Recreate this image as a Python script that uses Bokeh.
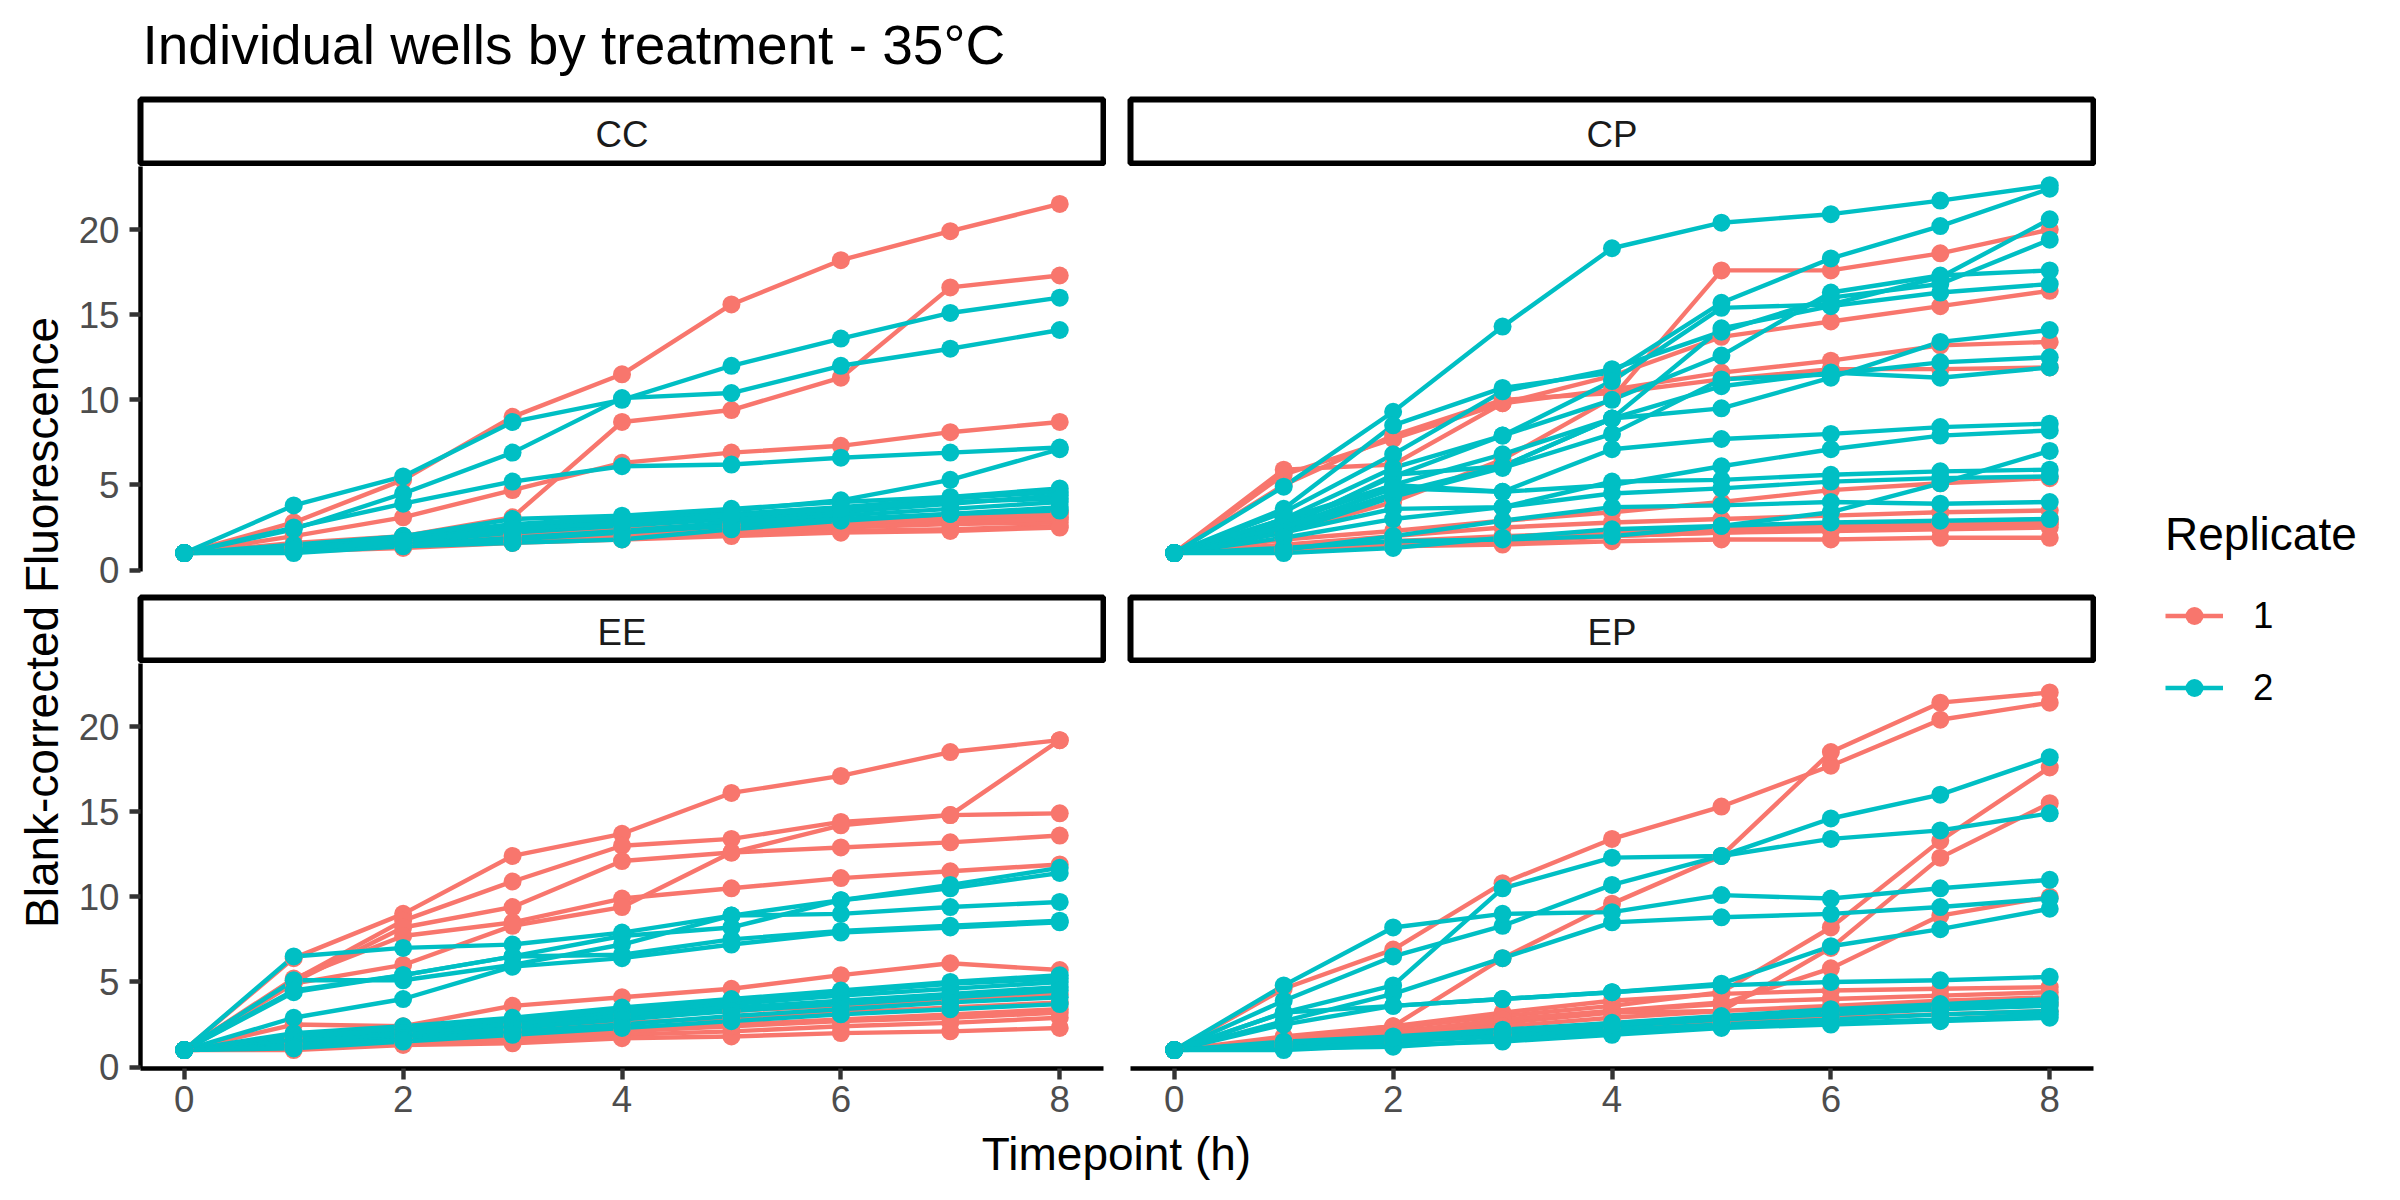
import math
from bokeh.plotting import figure
from bokeh.layouts import row, column
from bokeh.models import Range1d, FixedTicker, Legend, LegendItem
from bokeh.embed import file_html
from bokeh.resources import INLINE
from bokeh.core.properties import value

# ---------------- data ----------------
TIMEPOINTS = [0, 1, 2, 3, 4, 5, 6, 7, 8]
FACETS = ["CC", "CP", "EE", "EP"]
REPLICATES = ["1", "2"]
X_TICKS = [0, 2, 4, 6, 8]
Y_TICKS = [0, 5, 10, 15, 20]

CC_REP1 = [
    [1, 2.8, 5.3, 9.0, 11.5, 15.6, 18.2, 19.9, 21.5],
    [1, 1.6, 2.0, 3.1, 8.7, 9.4, 11.3, 16.6, 17.3],
    [1, 2.0, 3.1, 4.7, 6.3, 6.9, 7.3, 8.1, 8.7],
    [1, 1.2, 1.4, 1.7, 1.9, 2.1, 2.3, 2.4, 2.6],
    [1, 1.3, 1.5, 1.8, 2.0, 2.3, 2.5, 2.7, 2.8],
    [1, 1.3, 1.7, 2.0, 2.2, 2.5, 2.7, 2.9, 3.1],
    [1, 1.4, 1.8, 2.1, 2.4, 2.7, 2.9, 3.1, 3.3],
    [1, 1.2, 1.5, 1.9, 2.1, 2.4, 2.6, 2.8, 3.0],
    [1, 1.1, 1.3, 1.6, 1.8, 2.0, 2.2, 2.3, 2.5],
    [1, 1.3, 1.6, 2.0, 2.3, 2.6, 2.8, 3.0, 3.4],
]
CC_REP2 = [
    [1, 3.8, 5.5, 8.7, 10.0, 12.0, 13.6, 15.1, 16.0],
    [1, 2.4, 4.5, 6.9, 10.1, 10.4, 12.0, 13.0, 14.1],
    [1, 2.5, 3.9, 5.2, 6.1, 6.2, 6.6, 6.9, 7.2],
    [1, 1.5, 2.0, 2.7, 3.1, 3.5, 4.1, 5.3, 7.1],
    [1, 1.2, 2.0, 3.0, 3.2, 3.6, 4.0, 4.3, 4.8],
    [1, 1.3, 1.8, 2.5, 2.9, 3.3, 3.7, 4.2, 4.6],
    [1, 1.1, 1.6, 2.2, 2.6, 3.0, 3.4, 3.9, 4.4],
    [1, 1.2, 1.5, 1.9, 2.3, 2.8, 3.2, 3.6, 4.0],
    [1, 1.0, 1.4, 1.6, 1.8, 2.4, 2.9, 3.3, 3.7],
    [1, 1.1, 1.5, 1.8, 2.2, 2.6, 3.0, 3.3, 3.5],
    [1, 1.2, 1.7, 2.4, 2.8, 3.2, 3.6, 4.0, 4.2],
]
CP_REP1 = [
    [1, 2.2, 4.0, 6.5, 10.1, 17.6, 17.6, 18.6, 20.0],
    [1, 5.9, 6.2, 9.8, 11.4, 13.7, 14.6, 15.5, 16.4],
    [1, 5.6, 7.7, 9.8, 10.6, 11.6, 12.3, 13.2, 13.4],
    [1, 5.0, 7.9, 10.0, 10.4, 11.2, 11.8, 11.8, 11.9],
    [1, 1.8, 2.3, 2.9, 3.4, 4.0, 4.7, 5.1, 5.4],
    [1, 1.5, 2.0, 2.5, 2.8, 3.0, 3.2, 3.4, 3.5],
    [1, 1.3, 1.7, 2.0, 2.2, 2.4, 2.6, 2.8, 3.0],
    [1, 1.2, 1.5, 1.8, 2.0, 2.2, 2.3, 2.4, 2.5],
    [1, 1.1, 1.4, 1.5, 1.7, 1.8, 1.8, 1.9, 1.9],
    [1, 1.2, 1.6, 1.9, 2.1, 2.4, 2.5, 2.7, 2.8],
    [1, 1.3, 1.4, 1.6, 2.0, 2.2, 2.4, 2.5, 2.7],
]
CP_REP2 = [
    [1, 4.9, 9.3, 14.3, 18.9, 20.4, 20.9, 21.7, 22.6],
    [1, 3.6, 8.5, 10.7, 11.6, 15.7, 18.3, 20.2, 22.4],
    [1, 3.4, 6.8, 10.5, 11.8, 14.0, 16.0, 16.8, 19.4],
    [1, 3.0, 6.0, 7.9, 11.1, 15.4, 15.6, 17.2, 20.6],
    [1, 2.6, 5.5, 7.9, 10.0, 12.6, 16.3, 17.3, 17.6],
    [1, 2.8, 5.0, 6.8, 8.9, 14.2, 15.5, 16.3, 16.8],
    [1, 2.4, 4.5, 6.1, 8.9, 9.5, 11.3, 13.4, 14.1],
    [1, 2.5, 5.6, 6.1, 8.9, 10.8, 11.6, 11.3, 11.9],
    [1, 2.2, 4.3, 6.0, 8.0, 11.2, 11.5, 12.2, 12.5],
    [1, 3.0, 5.0, 4.6, 7.1, 7.7, 8.0, 8.4, 8.6],
    [1, 2.5, 4.8, 4.6, 5.0, 6.1, 7.1, 7.9, 8.2],
    [1, 2.2, 3.6, 3.7, 5.2, 5.3, 5.6, 5.8, 5.9],
    [1, 1.9, 3.0, 3.7, 4.5, 4.8, 5.2, 5.4, 5.5],
    [1, 1.3, 1.7, 1.8, 2.0, 2.6, 3.4, 5.1, 7.0],
    [1, 1.2, 2.0, 2.9, 3.7, 3.8, 4.0, 3.9, 4.0],
    [1, 1.0, 1.3, 1.9, 2.4, 2.6, 2.8, 2.9, 3.0],
]
EE_REP1 = [
    [1, 6.4, 9.0, 12.4, 13.7, 16.1, 17.1, 18.5, 19.2],
    [1, 5.1, 8.6, 10.9, 13.0, 13.4, 14.4, 14.8, 19.2],
    [1, 5.0, 8.2, 9.4, 12.1, 12.6, 12.9, 13.2, 13.6],
    [1, 5.2, 7.7, 8.5, 9.9, 10.5, 11.1, 11.5, 11.9],
    [1, 4.9, 6.0, 8.3, 9.4, 12.6, 14.2, 14.8, 14.9],
    [1, 2.5, 2.4, 3.6, 4.1, 4.6, 5.4, 6.1, 5.7],
    [1, 1.7, 2.0, 2.5, 3.0, 3.3, 3.6, 3.9, 4.3],
    [1, 1.4, 1.7, 2.2, 2.6, 2.9, 3.2, 3.5, 3.8],
    [1, 1.3, 1.5, 1.9, 2.2, 2.5, 2.8, 3.1, 3.4],
    [1, 1.2, 1.4, 1.6, 1.9, 2.1, 2.4, 2.6, 2.9],
    [1, 1.0, 1.3, 1.4, 1.7, 1.8, 2.0, 2.1, 2.3],
    [1, 1.1, 1.5, 1.8, 2.1, 2.4, 2.7, 2.9, 3.2],
]
EE_REP2 = [
    [1, 6.5, 7.0, 7.2, 7.9, 8.9, 9.8, 10.7, 11.7],
    [1, 4.4, 5.4, 6.5, 7.7, 8.2, 9.8, 10.5, 11.4],
    [1, 5.1, 5.1, 6.0, 7.2, 8.9, 9.0, 9.4, 9.7],
    [1, 4.5, 5.4, 6.5, 6.6, 7.5, 8.0, 8.3, 8.6],
    [1, 2.9, 4.0, 5.9, 6.4, 7.2, 7.9, 8.2, 8.5],
    [1, 2.0, 2.4, 2.9, 3.5, 4.0, 4.5, 5.0, 5.4],
    [1, 1.8, 2.2, 2.8, 3.4, 3.9, 4.4, 4.9, 5.2],
    [1, 1.6, 2.0, 2.6, 3.2, 3.7, 4.2, 4.6, 5.0],
    [1, 1.5, 1.9, 2.5, 3.0, 3.5, 3.9, 4.3, 4.7],
    [1, 1.3, 1.7, 2.3, 2.8, 3.3, 3.7, 4.1, 4.5],
    [1, 1.2, 1.6, 2.1, 2.5, 3.0, 3.4, 3.8, 4.1],
    [1, 1.1, 1.5, 1.9, 2.3, 2.7, 3.1, 3.4, 3.7],
]
EP_REP1 = [
    [1, 4.6, 6.9, 10.8, 13.4, 15.3, 17.7, 20.4, 21.4],
    [1, 1.8, 2.4, 6.4, 9.6, 12.4, 18.5, 21.4, 22.0],
    [1, 1.7, 2.3, 3.0, 3.6, 4.4, 8.2, 13.3, 17.6],
    [1, 1.5, 2.0, 2.6, 3.2, 3.3, 7.0, 12.3, 15.5],
    [1, 1.6, 2.1, 2.7, 3.3, 3.7, 5.8, 8.9, 10.0],
    [1, 1.7, 2.4, 3.2, 3.9, 4.3, 4.5, 4.6, 4.7],
    [1, 1.6, 2.0, 2.8, 3.3, 3.8, 4.0, 4.2, 4.4],
    [1, 1.4, 1.8, 2.4, 2.9, 3.3, 3.6, 3.9, 4.1],
    [1, 1.3, 1.6, 2.1, 2.6, 2.9, 3.2, 3.5, 3.7],
    [1, 1.2, 1.5, 1.9, 2.3, 2.6, 2.9, 3.1, 3.3],
]
EP_REP2 = [
    [1, 3.9, 6.5, 8.3, 10.7, 12.4, 14.6, 16.0, 18.2],
    [1, 3.2, 4.8, 10.5, 12.3, 12.4, 13.4, 13.9, 14.9],
    [1, 4.8, 8.2, 9.0, 9.1, 10.1, 9.9, 10.5, 11.0],
    [1, 2.7, 4.3, 6.4, 8.5, 8.8, 9.0, 9.4, 9.9],
    [1, 2.5, 3.6, 4.0, 4.4, 4.9, 7.1, 8.1, 9.3],
    [1, 3.2, 3.6, 4.0, 4.4, 4.8, 5.0, 5.1, 5.3],
    [1, 1.5, 1.8, 2.2, 2.6, 3.0, 3.4, 3.7, 4.0],
    [1, 1.3, 1.6, 2.0, 2.4, 2.8, 3.1, 3.4, 3.6],
    [1, 1.2, 1.5, 1.8, 2.2, 2.5, 2.8, 3.1, 3.3],
    [1, 1.0, 1.3, 1.5, 1.9, 2.3, 2.5, 2.7, 2.9],
    [1, 1.1, 1.2, 1.6, 2.0, 2.4, 2.6, 2.8, 3.1],
    [1, 1.4, 1.7, 2.1, 2.5, 2.9, 3.3, 3.6, 3.8],
]

TITLE = "Individual wells by treatment - 35°C"
X_TITLE = "Timepoint (h)"
Y_TITLE = "Blank-corrected Fluorescence"
LEGEND_TITLE = "Replicate"

DATA = {
    "CC": (CC_REP1, CC_REP2),
    "CP": (CP_REP1, CP_REP2),
    "EE": (EE_REP1, EE_REP2),
    "EP": (EP_REP1, EP_REP2),
}

# ---------------- style / layout ----------------
FONT = "Liberation Sans"
COLORS = {"1": "#F8766D", "2": "#00BFC4"}
LW = 4.4
PT = 18
X_LO, X_HI = -0.4, 8.4
Y_LO, Y_HI = -0.08, 23.7

TOTAL_W, TOTAL_H = 2400, 1200
FRAME_W = 963
FRAME_H = 405
LEFT_BL, LEFT_BR = 72, 3
RIGHT_BL, RIGHT_BR = 24, 3
LEFT_W = LEFT_BL + FRAME_W + LEFT_BR
RIGHT_W = RIGHT_BL + FRAME_W + RIGHT_BR
MID_W = LEFT_W + RIGHT_W
YLAB_W = 68
LEG_W = TOTAL_W - YLAB_W - MID_W
HEADER_H = 96
STRIP1_H = 70
TOP_B = 22          # room under the top panels for the "0" tick label
STRIP2_H = 92 - TOP_B
BOTTOM_B = 59
FOOTER_H = (TOTAL_H - HEADER_H - STRIP1_H - (FRAME_H + TOP_B) - STRIP2_H
            - (FRAME_H + BOTTOM_B))


def base_fig(w, h, xr, yr, bl=0, br=0, bt=0, bb=0, xloc=None, yloc=None):
    p = figure(width=w, height=h, x_range=xr, y_range=yr,
               output_backend="svg", toolbar_location=None, title=None,
               x_axis_location=xloc, y_axis_location=yloc,
               min_border_left=bl, min_border_right=br,
               min_border_top=bt, min_border_bottom=bb)
    p.background_fill_color = "white"
    p.border_fill_color = "white"
    p.outline_line_color = None
    p.grid.visible = False
    return p


def style_axis(ax, ticks, standoff):
    ax.ticker = FixedTicker(ticks=ticks)
    ax.axis_label = None
    ax.axis_line_color = "black"
    ax.axis_line_width = LW
    ax.major_tick_line_color = "#333333"
    ax.major_tick_line_width = LW
    ax.major_tick_out = 11
    ax.major_tick_in = 0
    ax.minor_tick_line_color = None
    ax.major_label_text_font = FONT
    ax.major_label_text_font_size = "36.7px"
    ax.major_label_text_color = "#4D4D4D"
    ax.major_label_standoff = standoff


def make_panel(facet, left_col, bottom_row):
    rep1, rep2 = DATA[facet]
    bl, br = (LEFT_BL, LEFT_BR) if left_col else (RIGHT_BL, RIGHT_BR)
    w = LEFT_W if left_col else RIGHT_W
    bb = BOTTOM_B if bottom_row else TOP_B
    p = base_fig(w, FRAME_H + bb, Range1d(X_LO, X_HI), Range1d(Y_LO, Y_HI),
                 bl=bl, br=br, bt=0, bb=bb,
                 xloc="below" if bottom_row else None,
                 yloc="left" if left_col else None)
    for rep, series in zip(REPLICATES, (rep1, rep2)):
        p.multi_line(xs=[TIMEPOINTS] * len(series), ys=series,
                     line_color=COLORS[rep], line_width=LW,
                     line_join="round", line_cap="round")
    for rep, series in zip(REPLICATES, (rep1, rep2)):
        xs = [t for s in series for t in TIMEPOINTS]
        ys = [v for s in series for v in s]
        p.scatter(x=xs, y=ys, size=PT, fill_color=COLORS[rep], line_color=None)
    if left_col:
        style_axis(p.yaxis[0], Y_TICKS, 10)
    if bottom_row:
        style_axis(p.xaxis[0], X_TICKS, 6)
    return p


def make_strip(label, left_col, h, bt, bb):
    bl, br = (LEFT_BL, LEFT_BR) if left_col else (RIGHT_BL, RIGHT_BR)
    w = LEFT_W if left_col else RIGHT_W
    fh = h - bt - bb
    p = base_fig(w, h, Range1d(0, FRAME_W), Range1d(0, fh), bl=bl, br=br, bt=bt, bb=bb)
    p.outline_line_color = "black"
    p.outline_line_width = 6
    p.text(x=[FRAME_W / 2], y=[fh - 35.3], text=[label], text_align="center",
           text_baseline="middle", text_font=value(FONT),
           text_font_size="36.7px", text_color="#1A1A1A")
    return p


# header with the title
header = base_fig(MID_W, HEADER_H, Range1d(0, MID_W), Range1d(0, HEADER_H))
header.text(x=[142 - YLAB_W], y=[HEADER_H - 44], text=[TITLE], text_align="left",
            text_baseline="middle", text_font=value(FONT),
            text_font_size="55px", text_color="black")

strip_cc = make_strip("CC", True, STRIP1_H, 3, 3)
strip_cp = make_strip("CP", False, STRIP1_H, 3, 3)
p_cc = make_panel("CC", True, False)
p_cp = make_panel("CP", False, False)
strip_ee = make_strip("EE", True, STRIP2_H, 26 - TOP_B, 3)
strip_ep = make_strip("EP", False, STRIP2_H, 26 - TOP_B, 3)
p_ee = make_panel("EE", True, True)
p_ep = make_panel("EP", False, True)

footer = base_fig(MID_W, FOOTER_H, Range1d(0, MID_W), Range1d(0, FOOTER_H))
footer.text(x=[1116 - YLAB_W], y=[FOOTER_H - 26], text=[X_TITLE], text_align="center",
            text_baseline="middle", text_font=value(FONT),
            text_font_size="46px", text_color="black")

ylab = base_fig(YLAB_W, TOTAL_H, Range1d(0, YLAB_W), Range1d(0, TOTAL_H))
ylab.text(x=[41], y=[TOTAL_H - 622], text=[Y_TITLE], angle=math.pi / 2,
          text_align="center", text_baseline="middle", text_font=value(FONT),
          text_font_size="46px", text_color="black")

leg = base_fig(LEG_W, TOTAL_H, Range1d(0, 1), Range1d(0, 1))
items = []
for rep in REPLICATES:
    lr = leg.line(x=[float("nan")], y=[float("nan")], line_color=COLORS[rep], line_width=LW)
    sr = leg.scatter(x=[float("nan")], y=[float("nan")], size=PT,
                     fill_color=COLORS[rep], line_color=None)
    items.append(LegendItem(label=rep, renderers=[lr, sr]))
legend = Legend(items=items, title=LEGEND_TITLE, location=(69, 490),
                orientation="vertical",
                title_text_font=FONT, title_text_font_size="46px",
                title_text_font_style="normal",
                title_text_color="black", title_standoff=32,
                label_text_font=FONT, label_text_font_size="36.7px",
                label_text_color="black",
                glyph_width=58, glyph_height=45, label_height=45,
                label_standoff=30, spacing=27, padding=0, margin=0,
                border_line_color=None, background_fill_alpha=0)
leg.add_layout(legend)

mid = column(
    header,
    row(strip_cc, strip_cp, spacing=0),
    row(p_cc, p_cp, spacing=0),
    row(strip_ee, strip_ep, spacing=0),
    row(p_ee, p_ep, spacing=0),
    footer,
    spacing=0,
)
layout = row(ylab, mid, leg, spacing=0)

open("out.html", "w").write(file_html(layout, INLINE))
